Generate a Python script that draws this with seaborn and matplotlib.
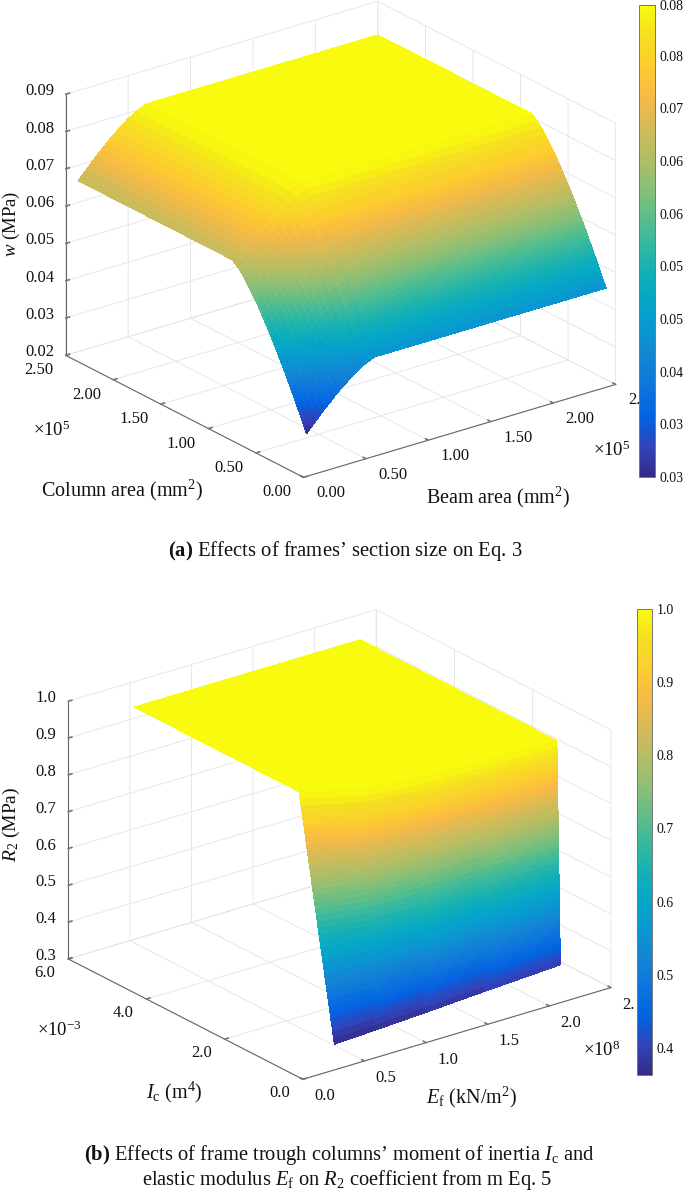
import numpy as np
import matplotlib
matplotlib.use("Agg")
import matplotlib.pyplot as plt
from matplotlib.cm import ScalarMappable
from matplotlib.colors import Normalize
from mpl_toolkits.mplot3d import proj3d
import seaborn as sns

# colours of the colour bars
parula_anchors = [(.2081, .1663, .5292), (.1959, .2645, .7279), (.0117, .3875, .8820), (.0498, .4586, .8641),
                  (.0793, .5200, .8312), (.0343, .5966, .8199), (.0228, .6535, .7768), (.0843, .6928, .7062),
                  (.2178, .7250, .6193), (.3953, .7459, .5244), (.5709, .7485, .4494), (.7184, .7411, .3905),
                  (.8507, .7299, .3360), (.9739, .7314, .2666), (.9880, .8066, .1794), (.9626, .8705, .1309),
                  (.9763, .9831, .0538)]

# ---------- panel (a), areas in 1e5 mm2, w in MPa ----------
beam_area = [.100, .134, .169, .205, .241, .279, .319, .360, .404, .450, .501, .559, .645, 2.500]
column_area = [.100, .119, .139, .159, .179, .199, .220, .240, .261, .282, .304, .325, .347, .370, .392, .415,
               .439, .463, .487, .512, .537, .563, .590, .618, .647, .677, .709, .743, .780, .822, .885, 2.500]
w_values = [
    [.0293, .0306, .0318, .0331, .0344, .0356, .0369, .0382, .0394, .0407, .0420, .0432, .0445, .0445],
    [.0305, .0318, .0330, .0343, .0356, .0368, .0381, .0394, .0406, .0419, .0432, .0444, .0457, .0457],
    [.0317, .0330, .0342, .0355, .0368, .0380, .0393, .0406, .0418, .0431, .0444, .0456, .0469, .0469],
    [.0329, .0342, .0354, .0367, .0380, .0392, .0405, .0418, .0430, .0443, .0456, .0468, .0481, .0481],
    [.0342, .0355, .0367, .0380, .0393, .0405, .0418, .0431, .0443, .0456, .0469, .0481, .0494, .0494],
    [.0354, .0367, .0379, .0392, .0405, .0417, .0430, .0443, .0455, .0468, .0481, .0493, .0506, .0506],
    [.0366, .0379, .0391, .0404, .0417, .0429, .0442, .0455, .0467, .0480, .0493, .0505, .0518, .0518],
    [.0378, .0391, .0403, .0416, .0429, .0441, .0454, .0467, .0479, .0492, .0505, .0517, .0530, .0530],
    [.0390, .0403, .0415, .0428, .0441, .0453, .0466, .0479, .0491, .0504, .0517, .0529, .0542, .0542],
    [.0402, .0415, .0427, .0440, .0453, .0465, .0478, .0491, .0503, .0516, .0529, .0541, .0554, .0554],
    [.0415, .0428, .0440, .0453, .0466, .0478, .0491, .0504, .0516, .0529, .0542, .0554, .0567, .0567],
    [.0427, .0440, .0452, .0465, .0478, .0490, .0503, .0516, .0528, .0541, .0554, .0566, .0579, .0579],
    [.0439, .0452, .0464, .0477, .0490, .0502, .0515, .0528, .0540, .0553, .0566, .0578, .0591, .0591],
    [.0451, .0464, .0476, .0489, .0502, .0514, .0527, .0540, .0552, .0565, .0578, .0590, .0603, .0603],
    [.0463, .0476, .0488, .0501, .0514, .0526, .0539, .0552, .0564, .0577, .0590, .0602, .0615, .0615],
    [.0475, .0488, .0500, .0513, .0526, .0538, .0551, .0564, .0576, .0589, .0602, .0614, .0627, .0627],
    [.0488, .0501, .0513, .0526, .0539, .0551, .0564, .0577, .0589, .0602, .0615, .0627, .0640, .0640],
    [.0500, .0513, .0525, .0538, .0551, .0563, .0576, .0589, .0601, .0614, .0627, .0639, .0652, .0652],
    [.0512, .0525, .0537, .0550, .0563, .0575, .0588, .0601, .0613, .0626, .0639, .0651, .0664, .0664],
    [.0524, .0537, .0549, .0562, .0575, .0587, .0600, .0613, .0625, .0638, .0651, .0663, .0676, .0676],
    [.0536, .0549, .0561, .0574, .0587, .0599, .0612, .0625, .0637, .0650, .0663, .0675, .0688, .0688],
    [.0548, .0561, .0573, .0586, .0599, .0611, .0624, .0637, .0649, .0662, .0675, .0687, .0700, .0700],
    [.0561, .0574, .0586, .0599, .0612, .0624, .0637, .0650, .0662, .0675, .0688, .0700, .0713, .0713],
    [.0573, .0586, .0598, .0611, .0624, .0636, .0649, .0662, .0674, .0687, .0700, .0712, .0725, .0725],
    [.0585, .0598, .0610, .0623, .0636, .0648, .0661, .0674, .0686, .0699, .0712, .0724, .0737, .0737],
    [.0597, .0610, .0622, .0635, .0648, .0660, .0673, .0686, .0698, .0711, .0724, .0736, .0749, .0749],
    [.0609, .0622, .0634, .0647, .0660, .0672, .0685, .0698, .0710, .0723, .0736, .0748, .0761, .0761],
    [.0621, .0634, .0646, .0659, .0672, .0684, .0697, .0710, .0722, .0735, .0748, .0760, .0773, .0773],
    [.0634, .0647, .0659, .0672, .0685, .0697, .0710, .0723, .0735, .0748, .0761, .0773, .0786, .0786],
    [.0646, .0659, .0671, .0684, .0697, .0709, .0722, .0735, .0747, .0760, .0773, .0785, .0798, .0798],
    [.0658, .0671, .0683, .0696, .0709, .0721, .0734, .0747, .0759, .0772, .0785, .0797, .0810, .0810],
    [.0658, .0671, .0683, .0696, .0709, .0721, .0734, .0747, .0759, .0772, .0785, .0797, .0810, .0810],
]
a_x_ticks = [0, 0.5, 1, 1.5, 2, 2.5]
a_x_labels = ["0.00", "0.50", "1.00", "1.50", "2.00", "2."]
a_y_ticks = [0, 0.5, 1, 1.5, 2, 2.5]
a_y_labels = ["0.00", "0.50", "1.00", "1.50", "2.00", "2.50"]
a_z_ticks = [0.02, 0.03, 0.04, 0.05, 0.06, 0.07, 0.08, 0.09]
a_z_labels = ["0.02", "0.03", "0.04", "0.05", "0.06", "0.07", "0.08", "0.09"]
a_cbar_ticks = [0.029, 0.0348, 0.0406, 0.0464, 0.0522, 0.058, 0.0638, 0.0696, 0.0754, 0.081]
a_cbar_labels = ["0.03", "0.03", "0.04", "0.05", "0.05", "0.06", "0.06", "0.07", "0.08", "0.08"]

# ---------- panel (b), Ef in 1e8 kN/m2, Ic in 1e-3 m4, one column per Ef ----------
ef_values = [0.28, 0.60, 1.00, 1.50, 2.115]
ic_values = [
    [.077, .077, .077, .077, .077], [.100, .087, .083, .081, .079], [.123, .097, .088, .084, .082],
    [.146, .107, .094, .088, .084], [.170, .117, .100, .092, .086], [.193, .127, .106, .095, .089],
    [.216, .137, .111, .099, .091], [.239, .147, .117, .103, .093], [.262, .157, .123, .106, .095],
    [.285, .167, .128, .110, .098], [.309, .178, .134, .114, .100], [.332, .188, .140, .117, .102],
    [.355, .198, .146, .121, .105], [.378, .208, .151, .125, .107], [.401, .218, .157, .128, .109],
    [.424, .228, .163, .132, .112], [.447, .238, .169, .136, .114], [.471, .248, .174, .139, .116],
    [.494, .258, .180, .143, .119], [.517, .268, .186, .147, .121], [.540, .278, .191, .150, .123],
    [.563, .288, .197, .154, .125], [.586, .298, .203, .158, .128], [.609, .308, .209, .161, .130],
    [.633, .318, .214, .165, .132], [.656, .328, .220, .169, .135], [.679, .338, .226, .172, .137],
    [.702, .348, .231, .176, .139], [.725, .358, .237, .180, .142], [.748, .368, .243, .183, .144],
    [.772, .379, .249, .187, .146], [.795, .389, .254, .191, .149], [.818, .399, .260, .194, .151],
    [.841, .409, .266, .198, .153], [.864, .419, .271, .202, .156], [.887, .429, .277, .205, .158],
    [.910, .439, .283, .209, .160], [.934, .449, .289, .213, .162], [.957, .459, .294, .216, .165],
    [.980, .469, .300, .220, .167], [5.20, 5.20, 5.20, 5.20, 5.20],
]
r2_values = [
    [.363, .368, .375, .385, .396], [.379, .384, .391, .401, .411], [.396, .400, .407, .417, .427],
    [.412, .417, .423, .432, .442], [.428, .433, .439, .448, .458], [.445, .449, .455, .464, .473],
    [.461, .465, .471, .480, .489], [.477, .481, .487, .495, .504], [.494, .498, .503, .511, .520],
    [.510, .514, .519, .527, .535], [.526, .530, .535, .543, .551], [.543, .546, .551, .558, .566],
    [.559, .563, .567, .574, .582], [.575, .579, .583, .590, .597], [.592, .595, .599, .606, .613],
    [.608, .611, .615, .622, .628], [.624, .627, .631, .637, .644], [.641, .644, .647, .653, .659],
    [.657, .660, .664, .669, .675], [.673, .676, .680, .685, .690], [.690, .692, .696, .700, .706],
    [.706, .708, .712, .716, .721], [.722, .725, .728, .732, .737], [.739, .741, .744, .748, .752],
    [.755, .757, .760, .763, .768], [.771, .773, .776, .779, .783], [.788, .789, .792, .795, .799],
    [.804, .806, .808, .811, .814], [.820, .822, .824, .826, .830], [.837, .838, .840, .842, .845],
    [.853, .854, .856, .858, .861], [.869, .870, .872, .874, .876], [.886, .887, .888, .889, .892],
    [.902, .903, .904, .905, .907], [.918, .919, .920, .921, .923], [.935, .935, .936, .937, .938],
    [.951, .952, .952, .953, .954], [.967, .968, .968, .968, .969], [.984, .984, .984, .984, .985],
    [1.0, 1.0, 1.0, 1.0, 1.0], [1.0, 1.0, 1.0, 1.0, 1.0],
]
b_x_ticks = [0, 0.5, 1, 1.5, 2, 2.5]
b_x_labels = ["0.0", "0.5", "1.0", "1.5", "2.0", "2."]
b_y_ticks = [0, 2, 4, 6]
b_y_labels = ["0.0", "2.0", "4.0", "6.0"]
b_z_ticks = [0.3, 0.4, 0.5, 0.6, 0.7, 0.8, 0.9, 1.0]
b_z_labels = ["0.3", "0.4", "0.5", "0.6", "0.7", "0.8", "0.9", "1.0"]
b_cbar_ticks = [0.4, 0.5, 0.6, 0.7, 0.8, 0.9, 1.0]
b_cbar_labels = ["0.4", "0.5", "0.6", "0.7", "0.8", "0.9", "1.0"]

sns.set_theme(style="white", font="Liberation Serif")
plt.rcParams["mathtext.fontset"] = "custom"
plt.rcParams["mathtext.rm"] = "Liberation Serif"
plt.rcParams["mathtext.it"] = "Liberation Serif:italic"
plt.rcParams["mathtext.bf"] = "Liberation Serif:bold"

W, H = 685, 1191
fig = plt.figure(figsize=(W / 100, H / 100), dpi=100, facecolor="white")
parula = sns.blend_palette(parula_anchors, n_colors=256, as_cmap=True)


def put_text(x, y, s, size=14.5, **kw):
    # x, y in pixels from the top left
    kw.setdefault("ha", "center")
    kw.setdefault("va", "center")
    fig.text(x / W, 1 - y / H, s, fontsize=size, color="#111111", **kw)


def tick_text(ax, labels, points, offset, ha):
    # labels sit a fixed number of pixels away from the projected tick
    M = ax.get_proj()
    for s, (x, y, z) in zip(labels, points):
        px, py, _ = proj3d.proj_transform(x, y, z, M)
        ax.annotate(s, (px, py), xytext=offset, textcoords="offset pixels",
                    ha=ha, va="center", fontsize=12, color="#111111")


def draw_panel(rect, X, Y, Z, xlim, ylim, zlim, xt, xl, yt, yl, zt, zl, clim, offsets):
    left, top, side = rect
    ax = fig.add_axes([left / W, 1 - (top + side) / H, side / W, side / H],
                      projection="3d", proj_type="ortho", computed_zorder=False)
    ax.patch.set_alpha(0)
    ax.view_init(elev=23, azim=-127.3)
    ax.set_box_aspect((390, 390, 282))
    ax.plot_surface(X, Y, Z, cmap=parula, vmin=clim[0], vmax=clim[1], rstride=1, cstride=1,
                    linewidth=0, antialiased=False, shade=False)
    ax.set_xlim(*xlim, view_margin=0)
    ax.set_ylim(*ylim, view_margin=0)
    ax.set_zlim(*zlim, view_margin=0)
    ax.set_xticks(xt, [""] * len(xt))
    ax.set_yticks(yt, [""] * len(yt))
    ax.set_zticks(zt, [""] * len(zt))
    for axis in (ax.xaxis, ax.yaxis, ax.zaxis):
        axis.set_pane_color((1, 1, 1, 0))
        axis.pane.set_edgecolor("#e4e4e4")
        axis.line.set_color("#666666")
        axis.line.set_linewidth(0.8)
        axis._axinfo["grid"].update(color="#e4e4e4", linewidth=0.6)
        axis._axinfo["tick"].update(inward_factor=0, outward_factor=0.15)
        axis.set_tick_params(color="#777777", width=0.6)
    ax.grid(True)
    tick_text(ax, xl, [(t, ylim[0], zlim[0]) for t in xt], offsets[0], "left")
    tick_text(ax, yl, [(xlim[0], t, zlim[0]) for t in yt], offsets[1], "center")
    tick_text(ax, zl, [(xlim[0], ylim[1], t) for t in zt], offsets[2], "right")
    return ax


def draw_cbar(rect, clim, ticks, labels):
    x0, y0, x1, y1 = rect
    cax = fig.add_axes([x0 / W, 1 - y1 / H, (x1 - x0) / W, (y1 - y0) / H])
    cb = fig.colorbar(ScalarMappable(Normalize(*clim), parula), cax=cax)
    cb.set_ticks(ticks, labels=labels)
    cb.ax.tick_params(labelsize=10, direction="in", length=2, width=0.5, pad=3.4,
                      color="#555555", labelcolor="#111111")
    cb.outline.set_edgecolor("#777777")
    cb.outline.set_linewidth(0.7)


# panel (a)
Xa, Ya = np.meshgrid(beam_area, column_area)
draw_panel((30, -55, 605), Xa, Ya, np.array(w_values), (0, 2.5), (0, 2.5), (0.02, 0.09),
           a_x_ticks, a_x_labels, a_y_ticks, a_y_labels, a_z_ticks, a_z_labels, (0.029, 0.081),
           ((12.5, -16), (-27, -15), (-11.5, 3)))
draw_cbar((639, 5, 655, 477), (0.029, 0.081), a_cbar_ticks, a_cbar_labels)
put_text(11, 224, r"$\mathit{w}$ (MPa)", size=13.5, rotation=90)
put_text(122, 490, r"Column area (mm$^{2}$)")
put_text(498, 497, r"Beam area (mm$^{2}$)")
put_text(52, 430, r"$\times10^{5}$", size=13.5)
put_text(612, 450, r"$\times10^{5}$", size=13.5)
put_text(345, 551, r"$\mathbf{(a)}$ Effects of frames’ section size on Eq. 3", size=14.9)

# panel (b)
Xb = np.tile(ef_values, (len(ic_values), 1))
draw_panel((33, 554, 597), Xb, np.array(ic_values), np.array(r2_values), (0, 2.5), (0, 6), (0.3, 1.0),
           b_x_ticks, b_x_labels, b_y_ticks, b_y_labels, b_z_ticks, b_z_labels, (0.363, 1.0),
           ((11, -17), (-23.5, -14), (-12, 3)))
draw_cbar((637, 609, 652, 1075), (0.363, 1.0), b_cbar_ticks, b_cbar_labels)
put_text(11, 824, r"$\mathit{R}_{2}$ (MPa)", size=14, rotation=90)
put_text(174, 1092, r"$\mathit{I}_{\mathrm{c}}$ (m$^{4}$)")
put_text(471, 1097, r"$\mathit{E}_{\mathrm{f}}$ (kN/m$^{2}$)")
put_text(59, 1030, r"$\times10^{-3}$", size=13.5)
put_text(602, 1050, r"$\times10^{8}$", size=13.5)
put_text(339, 1155, r"$\mathbf{(b)}$ Effects of frame trough columns’ moment of inertia $\mathit{I}_{\mathrm{c}}$ and", size=14.8)
put_text(347, 1180, r"elastic modulus $\mathit{E}_{\mathrm{f}}$ on $\mathit{R}_{2}$ coefficient from m Eq. 5", size=14.8)

fig.savefig("out.png", dpi=100, facecolor="white")
